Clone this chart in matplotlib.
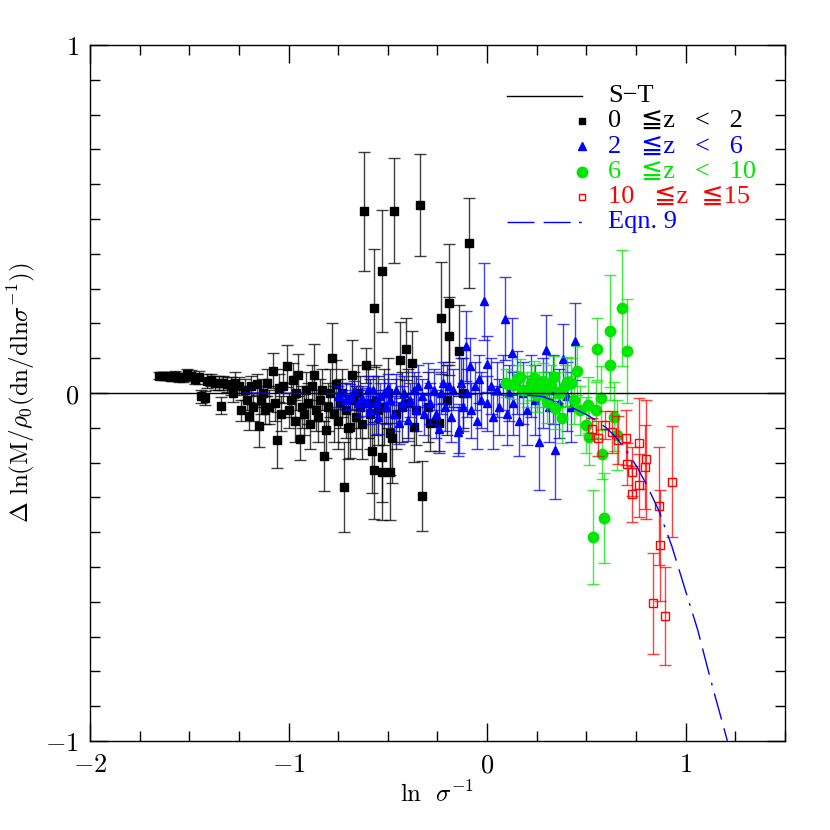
import matplotlib
matplotlib.use("Agg")
import matplotlib.pyplot as plt
import numpy as np
from matplotlib.ticker import FixedLocator, MultipleLocator, FixedFormatter

plt.rcParams["mathtext.fontset"] = "cm"

# ---- data (x = ln sigma^-1, y = residual, e = error) ----
black_x = [-1.65, -1.63, -1.61, -1.59, -1.57, -1.55, -1.53, -1.51, -1.49, -1.47,
           -1.45, -1.44, -1.42, -1.41, -1.39, -1.37, -1.35, -1.34, -1.33, -1.31,
           -1.29, -1.28, -1.27, -1.25, -1.24, -1.22, -1.21, -1.20, -1.19, -1.18,
           -1.16, -1.15, -1.14, -1.13, -1.12, -1.11, -1.10, -1.08, -1.07, -1.06,
           -1.05, -1.04, -1.03, -1.01, -1.00, -0.99, -0.98, -0.97, -0.96, -0.95,
           -0.94, -0.93, -0.92, -0.91, -0.90, -0.89, -0.88, -0.87, -0.86, -0.85,
           -0.84, -0.83, -0.82, -0.81, -0.80, -0.79, -0.78, -0.77, -0.76, -0.75,
           -0.74, -0.73, -0.72, -0.71, -0.70, -0.69, -0.68, -0.67, -0.66, -0.65,
           -0.64, -0.63, -0.62, -0.61, -0.60, -0.59, -0.58, -0.57, -0.57, -0.56,
           -0.55, -0.53, -0.53, -0.53, -0.52, -0.50, -0.49, -0.49, -0.48, -0.47,
           -0.46, -0.44, -0.43, -0.41, -0.40, -0.38, -0.37, -0.36, -0.34, -0.33,
           -0.30, -0.29, -0.24, -0.23, -0.20, -0.19, -0.19, -0.14, -0.12, -0.09]
black_y = [0.050, 0.050, 0.048, 0.047, 0.050, 0.045, 0.045, 0.055, 0.050, 0.040,
           0.045, -0.010, -0.015, 0.035, 0.038, 0.030, 0.028, -0.036, 0.030, 0.025,
           0.020, 0.000, 0.030, 0.020, -0.050, 0.010, -0.020, -0.066, 0.020, -0.040,
           0.025, -0.095, -0.020, 0.000, -0.050, 0.030, -0.040, 0.064, -0.030, -0.135,
           0.015, -0.060, 0.020, 0.078, -0.050, -0.020, 0.037, -0.080, 0.000, 0.052,
           -0.133, -0.040, -0.060, 0.010, -0.030, -0.090, 0.020, 0.052, -0.050, -0.070,
           -0.020, 0.010, -0.181, -0.106, -0.040, 0.000, 0.100, -0.060, 0.025, -0.080,
           -0.030, 0.000, -0.270, -0.050, -0.100, -0.097, 0.052, -0.020, -0.070, 0.000,
           -0.040, -0.090, 0.522, 0.080, -0.030, -0.060, -0.166, 0.244, -0.222, -0.020,
           -0.050, 0.351, -0.183, -0.226, -0.040, 0.000, -0.116, -0.226, -0.130, 0.524,
           -0.060, 0.095, -0.040, 0.126, -0.030, 0.087, -0.099, -0.050, 0.540, -0.296,
           -0.040, -0.087, -0.087, 0.215, -0.020, 0.259, 0.164, 0.122, 0.000, 0.431]
black_e = [0.010, 0.010, 0.010, 0.012, 0.012, 0.012, 0.013, 0.015, 0.015, 0.015,
           0.018, 0.020, 0.020, 0.020, 0.018, 0.020, 0.020, 0.025, 0.020, 0.022,
           0.025, 0.025, 0.030, 0.025, 0.030, 0.030, 0.030, 0.040, 0.030, 0.040,
           0.030, 0.060, 0.040, 0.040, 0.040, 0.040, 0.050, 0.050, 0.050, 0.080,
           0.040, 0.050, 0.050, 0.060, 0.050, 0.050, 0.050, 0.060, 0.050, 0.060,
           0.060, 0.060, 0.060, 0.050, 0.060, 0.070, 0.060, 0.090, 0.060, 0.070,
           0.060, 0.060, 0.100, 0.080, 0.070, 0.070, 0.100, 0.080, 0.070, 0.080,
           0.070, 0.070, 0.130, 0.080, 0.090, 0.090, 0.100, 0.080, 0.090, 0.080,
           0.090, 0.100, 0.170, 0.050, 0.100, 0.100, 0.120, 0.170, 0.140, 0.100,
           0.100, 0.176, 0.130, 0.140, 0.110, 0.100, 0.120, 0.140, 0.130, 0.150,
           0.100, 0.110, 0.100, 0.090, 0.100, 0.090, 0.100, 0.100, 0.147, 0.100,
           0.100, 0.080, 0.080, 0.160, 0.100, 0.170, 0.113, 0.130, 0.100, 0.130]

blue_x = [-0.75, -0.73, -0.71, -0.69, -0.67, -0.65, -0.63, -0.61, -0.60, -0.59,
          -0.573, -0.56, -0.548, -0.54, -0.52, -0.51, -0.50, -0.49, -0.47, -0.46,
          -0.442, -0.43, -0.42, -0.40, -0.39, -0.37, -0.36, -0.35, -0.33, -0.32,
          -0.30, -0.29, -0.27, -0.26, -0.241, -0.23, -0.22, -0.21, -0.19, -0.18,
          -0.17, -0.149, -0.141, -0.13, -0.12, -0.107, -0.10, -0.087, -0.08, -0.06,
          -0.05, -0.04, -0.03, -0.015, -0.003, 0.00, 0.02, 0.03, 0.05, 0.06,
          0.08, 0.089, 0.10, 0.11, 0.124, 0.13, 0.15, 0.16, 0.18, 0.20,
          0.22, 0.24, 0.261, 0.28, 0.296, 0.31, 0.33, 0.342, 0.36, 0.38,
          0.40, 0.42, 0.44]
blue_y = [-0.010, 0.000, -0.020, -0.010, 0.005, -0.030, -0.015, -0.025, 0.010, -0.050,
          0.009, -0.030, -0.068, -0.010, 0.000, -0.040, 0.015, -0.020, -0.060, 0.010,
          -0.087, -0.030, 0.000, -0.078, -0.020, 0.010, -0.050, 0.020, -0.010, -0.060,
          0.025, -0.030, 0.010, -0.060, -0.102, 0.000, 0.030, -0.040, 0.020, -0.070,
          0.010, -0.111, -0.102, 0.030, -0.040, 0.135, 0.000, 0.078, -0.050, 0.020,
          -0.080, 0.040, -0.020, 0.263, 0.083, -0.030, 0.020, -0.070, 0.010, -0.040,
          0.030, 0.214, -0.060, 0.000, 0.116, -0.030, 0.030, -0.080, 0.000, -0.050,
          0.020, -0.020, -0.140, 0.000, 0.124, -0.040, 0.010, -0.164, -0.030, 0.097,
          -0.010, -0.040, 0.148]
blue_e = [0.030, 0.030, 0.030, 0.035, 0.030, 0.040, 0.035, 0.040, 0.040, 0.040,
          0.040, 0.040, 0.050, 0.040, 0.040, 0.050, 0.040, 0.050, 0.050, 0.045,
          0.060, 0.050, 0.050, 0.060, 0.050, 0.050, 0.060, 0.060, 0.050, 0.060,
          0.060, 0.060, 0.060, 0.070, 0.070, 0.060, 0.060, 0.070, 0.060, 0.070,
          0.060, 0.070, 0.070, 0.070, 0.070, 0.100, 0.070, 0.080, 0.080, 0.070,
          0.080, 0.070, 0.080, 0.110, 0.080, 0.080, 0.080, 0.090, 0.080, 0.080,
          0.080, 0.120, 0.090, 0.080, 0.100, 0.090, 0.090, 0.100, 0.090, 0.100,
          0.090, 0.100, 0.140, 0.100, 0.100, 0.100, 0.100, 0.140, 0.100, 0.100,
          0.100, 0.100, 0.110]

green_x = [0.094, 0.128, 0.150, 0.164, 0.180, 0.203, 0.220, 0.236, 0.250, 0.260,
           0.280, 0.294, 0.303, 0.320, 0.337, 0.342, 0.360, 0.375, 0.390, 0.404,
           0.420, 0.437, 0.454, 0.470, 0.496, 0.508, 0.513, 0.533, 0.546, 0.554,
           0.574, 0.576, 0.590, 0.617, 0.618, 0.638, 0.655, 0.677, 0.702]
green_y = [0.028, 0.024, 0.040, 0.047, 0.010, 0.009, 0.030, 0.042, -0.005, 0.011,
           0.035, 0.009, -0.025, 0.020, 0.047, -0.044, 0.000, -0.073, 0.020, 0.033,
           0.030, -0.020, 0.064, -0.050, -0.092, -0.035, -0.126, -0.413, -0.049, 0.126,
           -0.013, -0.176, -0.359, 0.178, 0.081, -0.068, -0.121, 0.244, 0.121]
green_e = [0.040, 0.040, 0.040, 0.050, 0.040, 0.050, 0.050, 0.050, 0.050, 0.050,
           0.050, 0.050, 0.060, 0.060, 0.060, 0.060, 0.060, 0.070, 0.060, 0.070,
           0.070, 0.070, 0.070, 0.070, 0.080, 0.080, 0.080, 0.135, 0.080, 0.090,
           0.090, 0.070, 0.130, 0.160, 0.100, 0.100, 0.100, 0.167, 0.150]

red_x = [0.526, 0.560, 0.593, 0.630, 0.658, 0.697, 0.702, 0.730, 0.730, 0.764,
         0.767, 0.797, 0.802, 0.833, 0.864, 0.871, 0.898, 0.931]
red_y = [-0.102, -0.130, -0.092, -0.111, -0.135, -0.128, -0.205, -0.226, -0.291, -0.265,
         -0.145, -0.212, -0.191, -0.604, -0.325, -0.438, -0.641, -0.255]
red_e = [0.030, 0.050, 0.040, 0.060, 0.070, 0.080, 0.060, 0.070, 0.080, 0.090,
         0.130, 0.120, 0.170, 0.145, 0.170, 0.160, 0.140, 0.160]

# Eqn. 9 curve (relative to S-T)
eqn9_x = [-1.23, -0.5, 0.0, 0.1, 0.2, 0.278, 0.3, 0.35, 0.4, 0.45, 0.5, 0.546,
          0.6, 0.647, 0.7, 0.754, 0.8, 0.864, 0.93, 1.0, 1.06, 1.124, 1.21]
eqn9_y = [0.0, -0.003, -0.005, -0.006, -0.006, -0.010, -0.015, -0.024, -0.035, -0.048,
          -0.062, -0.078, -0.100, -0.126, -0.165, -0.212, -0.260, -0.337, -0.440, -0.570,
          -0.680, -0.821, -1.0]

XLIM = (-2.0, 1.5)
YLIM = (-1.0, 1.0)
DASHES = [19.5, 6.5, 19.5, 6, 2, 6]

fig = plt.figure(figsize=(8.3, 8.3), dpi=100)
ax = fig.add_axes([0.1084, 0.1072, 0.8374, 0.8386])

groups = [
    (black_x, black_y, black_e, "k", "s", 5.5, "k"),
    (blue_x, blue_y, blue_e, "#0000ff", "^", 6.0, "#0000ff"),
    (green_x, green_y, green_e, "#00e600", "o", 7.5, "#00e600"),
    (red_x, red_y, red_e, "#ff0000", "s", 5.5, "none"),
]
for z, (gx, gy, ge, col, mk, ms, fc) in enumerate(groups):
    ax.errorbar(gx, gy, yerr=ge, fmt="none", ecolor=col, elinewidth=1.0,
                capsize=4.5, capthick=1.0, alpha=0.75, zorder=2 + z)
    ax.plot(gx, gy, linestyle="none", marker=mk, markersize=ms, color=col,
            markerfacecolor=fc, markeredgewidth=1.0, zorder=2.5 + z)

# S-T reference line and Eqn. 9
ax.plot(XLIM, [0, 0], color="k", linewidth=1.0, zorder=8)
eq_line, = ax.plot(eqn9_x, eqn9_y, color="#0000ff", linewidth=1.0, zorder=8)
eq_line.set_dashes(DASHES)

ax.set_xlim(*XLIM)
ax.set_ylim(*YLIM)

ax.xaxis.set_major_locator(FixedLocator([-2, -1, 0, 1]))
ax.xaxis.set_major_formatter(FixedFormatter([r"$-2$", r"$-1$", r"$0$", r"$1$"]))
ax.xaxis.set_minor_locator(MultipleLocator(0.25))
ax.yaxis.set_major_locator(FixedLocator([-1, 0, 1]))
ax.yaxis.set_major_formatter(FixedFormatter([r"$-1$", r"$0$", r"$1$"]))
ax.yaxis.set_minor_locator(MultipleLocator(0.1))
ax.tick_params(which="both", direction="in", top=True, right=True, width=1.0)
ax.tick_params(which="major", length=13, labelsize=19, pad=8)
ax.tick_params(which="minor", length=7)
for s in ax.spines.values():
    s.set_linewidth(1.0)

ax.set_xlabel(r"$\mathrm{ln}\ \ \sigma^{-1}$", fontsize=18, labelpad=2)
ax.set_ylabel(r"$\Delta\ \mathrm{ln}(\mathrm{M}/\rho_0(\mathrm{dn/dln}\sigma^{-1}))$",
              fontsize=18, labelpad=6)

# hand-placed legend like the original; plain text so "≦" can fall back to DejaVu Sans
leg_rows = [
    ("S\u2212T", "k", "line", None),
    ("0   \u2266z   <   2", "k", "s", "k"),
    ("2   \u2266z   <   6", "#0000ff", "^", "#0000ff"),
    ("6   \u2266z   <   10", "#00e600", "o", "#00e600"),
    ("10   \u2266z  \u226615", "#ff0000", "s", "none"),
    ("Eqn. 9", "#0000ff", "dash", None),
]
x_line0, x_line1, x_text = 0.6, 0.708, 0.746
y0, dy = 0.927, 0.0364
for i, (txt, col, kind, fc) in enumerate(leg_rows):
    yy = y0 - i * dy
    if kind == "line":
        ax.plot([x_line0, x_line1], [yy, yy], color=col, lw=1.0, transform=ax.transAxes)
    elif kind == "dash":
        ln, = ax.plot([x_line0, x_line1], [yy, yy], color=col, lw=1.0, transform=ax.transAxes)
        ln.set_dashes(DASHES)
    else:
        ms = {"s": 5, "^": 5.5, "o": 7.5}[kind]
        ax.plot([x_line1], [yy], marker=kind, markersize=ms, color=col,
                markerfacecolor=fc, linestyle="none", transform=ax.transAxes, clip_on=False)
    ax.text(x_text, yy, txt, color=col, fontsize=19, va="center", ha="left",
            family=["Liberation Serif", "DejaVu Serif", "DejaVu Sans"], transform=ax.transAxes)

fig.savefig("out.png", dpi=100)
